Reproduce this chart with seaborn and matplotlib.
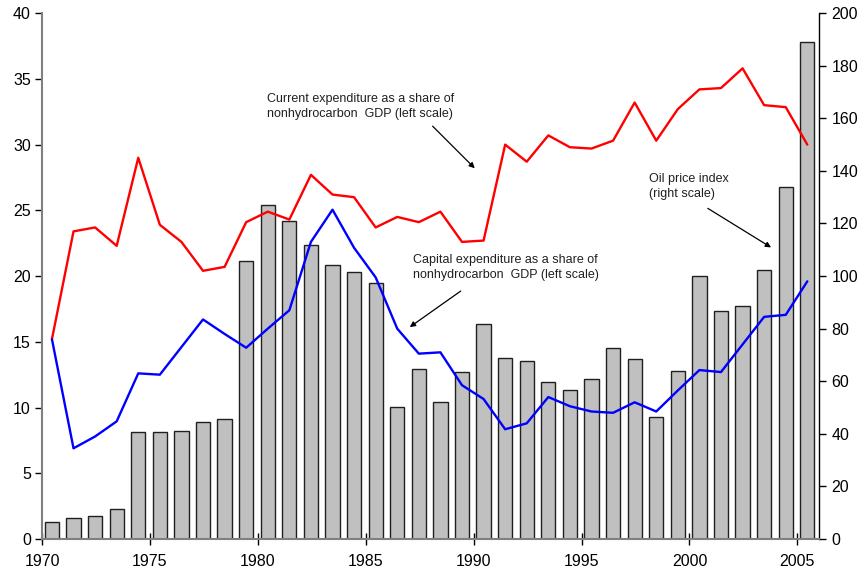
import numpy as np
import matplotlib
matplotlib.use("Agg")
import matplotlib.pyplot as plt
import seaborn as sns

# Data
years = np.arange(1970, 2006)

# Oil price index (right scale)
oil_index = [6.3, 7.9, 8.6, 11.3, 40.6, 40.6, 40.9, 44.4, 45.5, 105.6,
             126.9, 120.9, 112.0, 104.4, 101.4, 97.2, 50.3, 64.8, 52.2, 63.4,
             81.6, 68.7, 67.6, 59.6, 56.5, 61.0, 72.5, 68.3, 46.3, 63.8,
             100.0, 86.6, 88.5, 102.5, 133.7, 189.1]

# Current expenditure, % of nonhydrocarbon GDP (left scale)
current_exp = [15.2, 23.4, 23.7, 22.3, 29.0, 23.9, 22.6, 20.4, 20.7, 24.1,
               24.9, 24.3, 27.7, 26.2, 26.0, 23.7, 24.5, 24.1, 24.9, 22.6,
               22.7, 30.0, 28.7, 30.7, 29.8, 29.7, 30.3, 33.2, 30.3, 32.7,
               34.2, 34.3, 35.8, 33.0, 32.85, 30.0]

# Capital expenditure, % of nonhydrocarbon GDP (left scale)
capital_exp = [15.2, 6.9, 7.8, 8.95, 12.6, 12.5, 14.6, 16.7, 15.6, 14.55,
               16.0, 17.4, 22.6, 25.05, 22.15, 19.9, 16.0, 14.1, 14.2, 11.7,
               10.65, 8.35, 8.8, 10.8, 10.1, 9.7, 9.6, 10.4, 9.7, 11.3,
               12.85, 12.7, 14.8, 16.9, 17.05, 19.6]

x_ticks = [1970, 1975, 1980, 1985, 1990, 1995, 2000, 2005]
left_ticks = list(range(0, 41, 5))
right_ticks = list(range(0, 201, 20))

# points sit mid-year
xpos = years + 0.46

sns.set_style("white")
plt.rcParams['font.family'] = ['Liberation Sans', 'DejaVu Sans']

fig = plt.figure(figsize=(8.59, 5.71), dpi=100)
ax = fig.add_axes([0.0489, 0.056, 0.9045, 0.921])
ax2 = ax.twinx()

# bars on the right scale
sns.barplot(x=xpos, y=oil_index, native_scale=True, width=0.66, color='#C0C0C0',
            saturation=1, edgecolor='#202020', linewidth=1.0, ax=ax2)

# lines on the left scale
sns.lineplot(x=xpos, y=current_exp, color='#FF0000', lw=1.7, ax=ax)
sns.lineplot(x=xpos, y=capital_exp, color='#0000FF', lw=1.7, ax=ax)

ax.set_zorder(ax2.get_zorder() + 1)
ax.patch.set_visible(False)

ax.set_xlim(1970, 2006)
ax2.set_xlim(1970, 2006)
ax.set_ylim(0, 40)
ax2.set_ylim(0, 200)
ax.set_xticks(x_ticks)
ax.set_yticks(left_ticks)
ax2.set_yticks(right_ticks)
ax.set_xlabel('')
ax.set_ylabel('')
ax2.set_xlabel('')
ax2.set_ylabel('')

for s in ['top', 'right']:
    ax.spines[s].set_visible(False)
for s in ['top', 'left', 'bottom']:
    ax2.spines[s].set_visible(False)
ax.spines['left'].set_color('#808080')
ax.spines['left'].set_linewidth(1.5)
ax.spines['bottom'].set_color('#808080')
ax.spines['bottom'].set_linewidth(1.5)
ax2.spines['right'].set_color('black')
ax2.spines['right'].set_linewidth(1.0)

ax.tick_params(axis='x', direction='inout', length=9, width=1, color='black',
               labelsize=11.5, labelcolor='black', pad=6, bottom=True)
ax.tick_params(axis='y', direction='out', length=5, width=1, color='black',
               labelsize=11.5, labelcolor='black', pad=3, left=True)
ax2.tick_params(axis='y', direction='out', length=5, width=1, color='black',
                labelsize=11.5, labelcolor='black', pad=4, right=True)

# annotations
txt_kw = dict(fontsize=9, color='#202020', ha='left', va='center', linespacing=1.35)
arrow_kw = dict(arrowstyle='-|>', color='black', lw=0.9, mutation_scale=8,
                shrinkA=0, shrinkB=0)

ax.text(1980.42, 32.9, 'Current expenditure as a share of\nnonhydrocarbon  GDP (left scale)', **txt_kw)
ax.annotate('', xy=(1990.05, 28.2), xytext=(1988.1, 31.4), arrowprops=arrow_kw)

ax.text(1987.18, 20.65, 'Capital expenditure as a share of\nnonhydrocarbon  GDP (left scale)', **txt_kw)
ax.annotate('', xy=(1987.04, 16.12), xytext=(1989.4, 18.86), arrowprops=arrow_kw)

ax.text(1998.12, 26.8, 'Oil price index\n(right scale)', **txt_kw)
ax.annotate('', xy=(2003.78, 22.18), xytext=(2000.85, 25.15), arrowprops=arrow_kw)

fig.savefig('out.png', dpi=100)
